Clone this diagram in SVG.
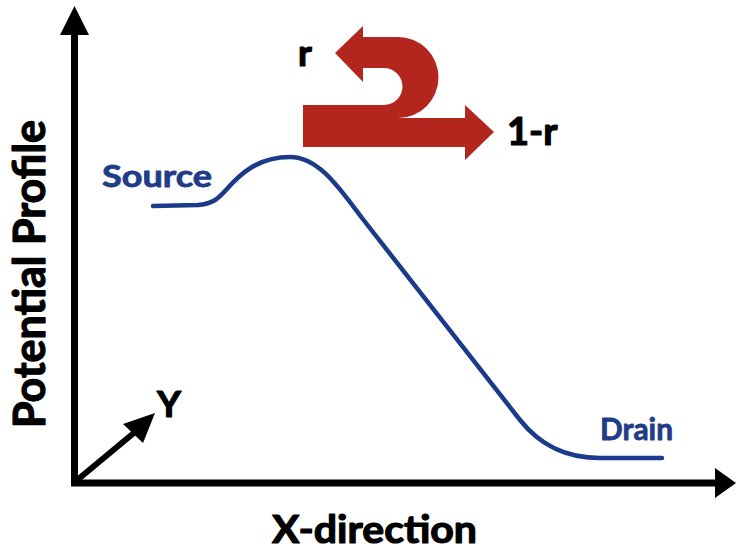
<svg xmlns="http://www.w3.org/2000/svg" width="736" height="554" viewBox="0 0 736 554">
<style>
.lbl{font-family:Lato,"Open Sans","Liberation Sans",sans-serif;font-weight:bold;fill:#000;stroke:#000;stroke-width:1.2;stroke-linejoin:round}
.blue{fill:#1f3c88;stroke:#1f3c88;stroke-width:0.8}
.axis{stroke:#000;stroke-width:7;fill:none}
</style>
<rect width="736" height="554" fill="#fff"/>
<g id="axes">
<line class="axis" x1="74.5" y1="486" x2="74.5" y2="32"/>
<polygon points="60,35 89,35 74.5,6" fill="#000"/>
<line class="axis" x1="71" y1="483" x2="718" y2="483"/>
<polygon points="715,468 715,498 736,483" fill="#000"/>
<line x1="76" y1="481" x2="135" y2="432" stroke="#000" stroke-width="6"/>
<polygon points="155,413 123,424 143,443" fill="#000"/>
</g>
<g id="curve">
<path d="M153,206 L198,205 C212,204 218,199 226,190 C240,174 258,157 290,157 C318,157 338,186 362,218 L520,420 C540,445 565,458 600,458 L662,458" fill="none" stroke="#1c3a8a" stroke-width="4.5" stroke-linecap="round"/>
</g>
<g id="reflection-arrow">
<path d="M303,147 L465,147 L465,160 L494,132 L465,105 L465,118 L398,118 A40.5,40.5 0 0 0 398,37 L363,37 L363,26 L335,53 L363,82 L363,68 L384,68 A18.5,18.5 0 0 1 384,105 L303,105 Z" fill="#b3261e"/>
</g>
<g id="labels">
<text class="lbl" x="298" y="66" font-size="37">r</text>
<text class="lbl" x="507" y="145" font-size="38">1-r</text>
<text class="lbl blue" x="102" y="187" font-size="30" textLength="110" lengthAdjust="spacingAndGlyphs">Source</text>
<text class="lbl blue" x="600" y="440" font-size="30" textLength="73" lengthAdjust="spacingAndGlyphs">Drain</text>
<text class="lbl" x="157" y="417" font-size="37">Y</text>
<text class="lbl" x="272" y="543" font-size="39" textLength="205" lengthAdjust="spacingAndGlyphs">X-direction</text>
<text class="lbl" transform="translate(45,428) rotate(-90)" font-size="44" textLength="308" lengthAdjust="spacingAndGlyphs">Potential Profile</text>
</g>
</svg>
